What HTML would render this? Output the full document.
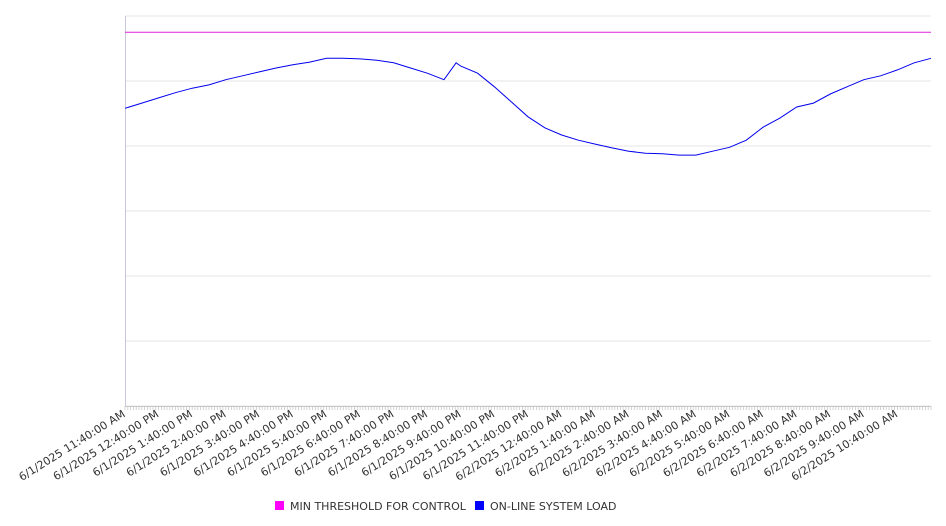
<!DOCTYPE html>
<html><head><meta charset="utf-8"><style>
html,body{margin:0;padding:0;background:#fff;}
svg{display:block;font-family:"DejaVu Sans","Liberation Sans",sans-serif;}
</style></head><body>
<svg id="chart" width="946" height="526" viewBox="0 0 946 526" xmlns="http://www.w3.org/2000/svg">
<g id="grid"></g>
<g id="xaxis"></g>
<g id="series"></g>
<g>
  <rect x="275" y="501" width="9" height="9" fill="#ff00ff"/>
  <text x="290" y="510" font-size="11" fill="#333">MIN THRESHOLD FOR CONTROL</text>
  <rect x="475" y="501" width="9" height="9" fill="#0000ff"/>
  <text x="490" y="510" font-size="11" fill="#333">ON-LINE SYSTEM LOAD</text>
</g>
</svg>
<script>
const tickLabels = ["6/1/2025 11:40:00 AM","6/1/2025 12:40:00 PM","6/1/2025 1:40:00 PM","6/1/2025 2:40:00 PM","6/1/2025 3:40:00 PM","6/1/2025 4:40:00 PM","6/1/2025 5:40:00 PM","6/1/2025 6:40:00 PM","6/1/2025 7:40:00 PM","6/1/2025 8:40:00 PM","6/1/2025 9:40:00 PM","6/1/2025 10:40:00 PM","6/1/2025 11:40:00 PM","6/2/2025 12:40:00 AM","6/2/2025 1:40:00 AM","6/2/2025 2:40:00 AM","6/2/2025 3:40:00 AM","6/2/2025 4:40:00 AM","6/2/2025 5:40:00 AM","6/2/2025 6:40:00 AM","6/2/2025 7:40:00 AM","6/2/2025 8:40:00 AM","6/2/2025 9:40:00 AM","6/2/2025 10:40:00 AM"];
// load values sampled every 30 minutes (hours since 11:40 AM)
const loadHours = [0,0.5,1,1.5,2,2.5,3,3.5,4,4.5,5,5.5,6,6.5,7,7.5,8,8.5,9,9.5,9.86,10,10.5,11,11.5,12,12.5,13,13.5,14,14.5,15,15.5,16,16.5,17,17.5,18,18.5,19,19.5,20,20.5,21,21.5,22,22.5,23,23.5,24];
const loadValues = [458,466,474,482,489,494,502,508,514,520,525,529,535,535,534,532,528,520,512,502,528,523,512,491,468,445,428,417,409,403,397,392,389,388,386,386,392,398,409,429,443,460,466,480,491,502,508,517,528,535];
const thresholdValue = 575;
const yTicks = [0,100,200,300,400,500,600];

const NS="http://www.w3.org/2000/svg";
const X0=125,X1=931,Y0=406,Y1=16;
const xScale=h=>X0+h/24*(X1-X0);
const yScale=v=>Y0-v/600*(Y0-Y1);
function mk(tag,attrs,parent){const e=document.createElementNS(NS,tag);for(const k in attrs)e.setAttribute(k,attrs[k]);parent.appendChild(e);return e;}
const grid=document.getElementById('grid'),xa=document.getElementById('xaxis'),ser=document.getElementById('series');
yTicks.forEach(v=>{
  const l=mk('line',{x1:X0,x2:X1,y1:yScale(v),y2:yScale(v),stroke:'#e6e6e6','stroke-width':1},grid);
  
  
});
const ax=mk('line',{x1:X0+0.5,x2:X0+0.5,y1:Y1,y2:Y0,stroke:'#c8c8dc','stroke-width':1},xa);


const bx=mk('line',{x1:X0,x2:X1,y1:Y0+0.5,y2:Y0+0.5,stroke:'#c8c8c8','stroke-width':1},xa);


for(let i=0;i<=288;i++){
  const x=xScale(i/12);
  const t=mk('line',{x1:x,x2:x,y1:Y0,y2:Y0+4,stroke:'#c8c8c8','stroke-width':0.8},xa);
  
  
}
tickLabels.forEach((s,i)=>{
  const x=xScale(i)+1,y=416;
  const t=mk('text',{x:x,y:y,'text-anchor':'end','font-size':'11',fill:'#333',transform:`rotate(-32 ${x} ${y})`},xa);
  t.textContent=s;
  
  
});
const th=mk('line',{x1:X0,x2:X1,y1:yScale(thresholdValue),y2:yScale(thresholdValue),stroke:'#dd22dd','stroke-width':1},ser);


const d=loadValues.map((v,i)=>(i?'L':'M')+xScale(loadHours[i]).toFixed(1)+' '+yScale(v).toFixed(1)).join(' ');
const p=mk('path',{d:d,fill:'none',stroke:'#0000ee','stroke-width':1},ser);


</script>
</body></html>
